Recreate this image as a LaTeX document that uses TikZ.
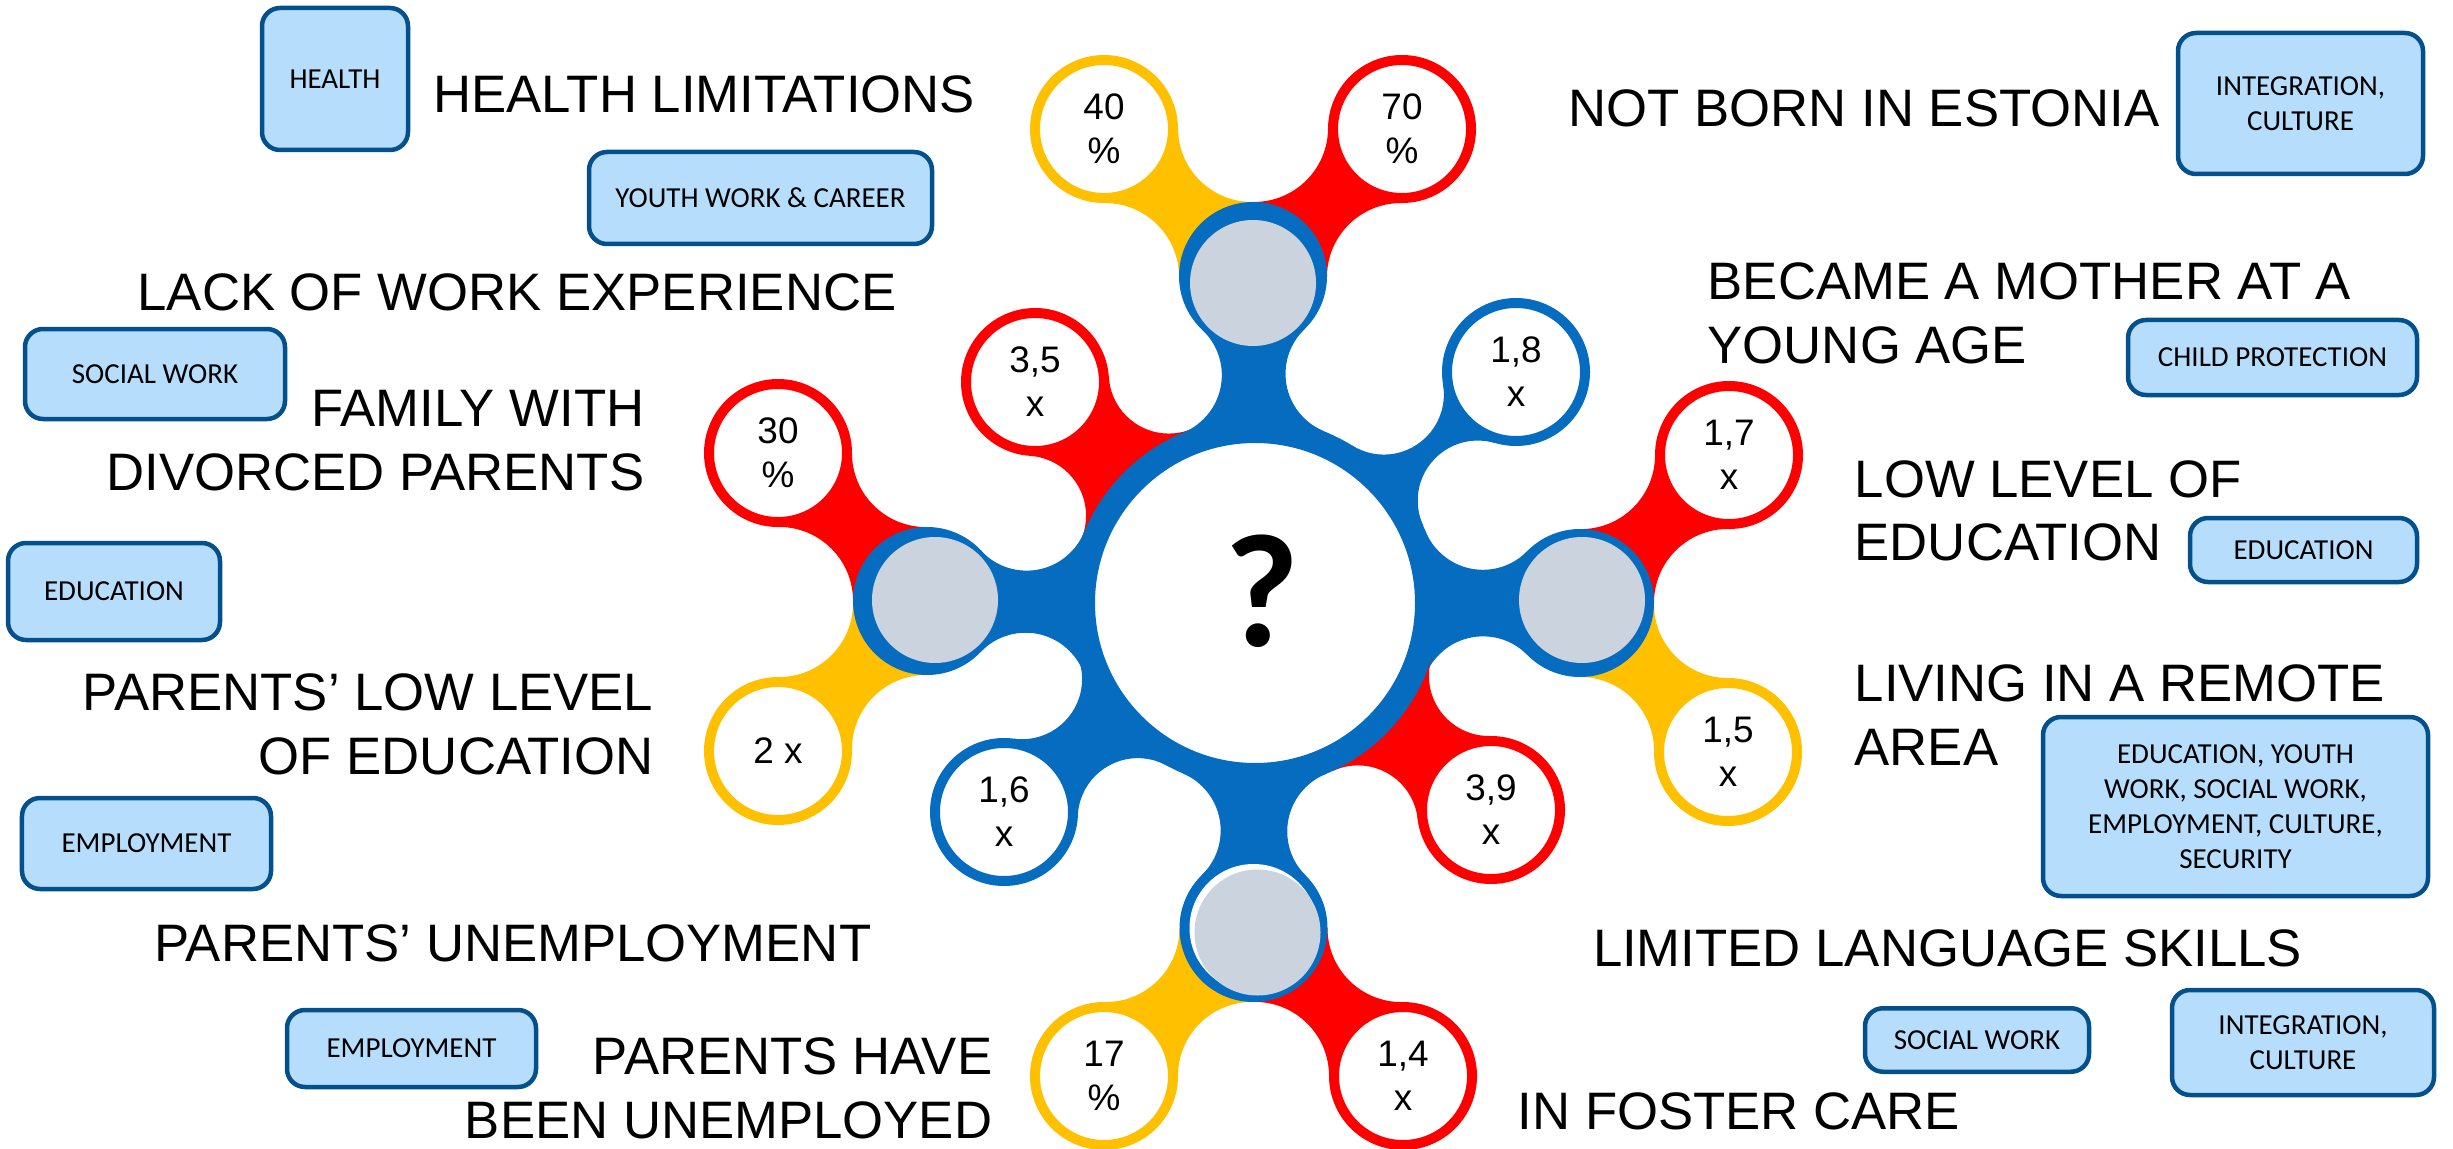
\documentclass[tikz,border=0pt]{standalone}
\usepackage{fontspec}
\setmainfont{Liberation Sans}
\newfontfamily\carlito{Carlito}
\usetikzlibrary{intersections}
\definecolor{mblue}{RGB}{5,108,192}
\definecolor{mred}{RGB}{255,0,0}
\definecolor{myellow}{RGB}{255,192,0}
\definecolor{hubgrey}{RGB}{203,211,222}
\definecolor{boxfill}{RGB}{182,222,252}
\definecolor{boxline}{RGB}{4,80,140}
\newcommand{\satr}{0.74}
\newcommand{\corer}{1.85}
\pgfdeclarelayer{back}
\pgfsetlayers{back,main}
% neck: colour, node a, radius a, node b, radius b, fillet radius
\newcommand{\neck}[6]{%
  \path[name path=ringa] (#2.center) circle[radius=#3+#6];
  \path[name path=ringb] (#4.center) circle[radius=#5+#6];
  \path[name intersections={of=ringa and ringb, by={fa,fb}}];
  \begin{scope}[even odd rule]
    \clip (#2.center) -- (fa) -- (#4.center) -- (fb) -- cycle;
    \clip (-1,-1) rectangle (26,13) (fa) circle[radius=#6] (fb) circle[radius=#6];
    \fill[fill=#1] (#2.center) -- (fa) -- (#4.center) -- (fb) -- cycle;
  \end{scope}}

\begin{document}
\begin{tikzpicture}[x=1cm, y=-1cm,
    sat/.style={circle, draw=#1, fill=white, line width=0.1cm, minimum size=1.38cm,
      inner sep=0pt, outer sep=0pt, align=center, font=\fontsize{10.5}{12.5}\selectfont},
    hub/.style={circle, fill=mblue, minimum size=1.48cm, inner sep=0pt, outer sep=0pt},
    task/.style={draw=boxline, fill=boxfill, line width=0.045cm, rounded corners=0.18cm,
      inner sep=0pt, align=center, font=\carlito\fontsize{8.25}{10}\selectfont},
    risk/.style={inner sep=0pt, font=\fontsize{15}{18.2}\selectfont}]
  \useasboundingbox (0,0) rectangle (24.53,11.49);
  %\draw[help lines] (0,0) grid (25,12);

  % centre
  \node[circle, draw=mblue, fill=white, line width=0.25cm, minimum size=3.45cm, inner sep=0pt] (core) at (12.55,6.03) {};
  \node[inner sep=0pt, font=\carlito\bfseries\fontsize{46}{46}\selectfont] (qmark) at (12.62,5.91) {?};

  % hubs
  \foreach \nm/\x/\y in {hubT/12.53/2.76, hubL/9.27/6.01, hubR/15.80/6.03, hubB/12.535/9.28}
    \node[hub] (\nm) at (\x,\y) {};
  \fill[hubgrey] ([shift={(0,0.07)}]hubT.center) circle (0.63);
  \fill[hubgrey] ([shift={(0.08,-0.01)}]hubL.center) circle (0.63);
  \fill[hubgrey] ([shift={(0.02,-0.03)}]hubR.center) circle (0.63);
  \fill[white] (hubB.center) circle (0.64);
  \fill[hubgrey] ([shift={(0.04,0.045)}]hubB.center) circle (0.63);

  % rates
  \foreach \nm/\col/\x/\y/\val in {
      s40/myellow/11.04/1.29/{40\\\%}, s70/mred/14.02/1.29/{70\\\%},
      s30/mred/7.78/4.53/{30\\\%}, s2x/myellow/7.78/7.51/{2 x},
      s1c7/mred/17.29/4.55/{1,7\\x}, s1c5/myellow/17.28/7.52/{1,5\\x},
      s17/myellow/11.04/10.76/{17\\\%}, s1c4/mred/14.03/10.76/{1,4\\x},
      s3c5/mred/10.35/3.82/{3,5\\x}, s1c8/mblue/15.16/3.72/{1,8\\x},
      s1c6/mblue/10.04/8.12/{1,6\\x}, s3c9/mred/14.91/8.10/{3,9\\x}}
    \node[sat=\col] (\nm) at (\x,\y) {\val};

  \begin{pgfonlayer}{back}
    \foreach \a/\b/\col in {s40/hubT/myellow, s70/hubT/mred, s30/hubL/mred, s2x/hubL/myellow,
        s1c7/hubR/mred, s1c5/hubR/myellow, s17/hubB/myellow, s1c4/hubB/mred}
      {\neck{\col}{\a}{\satr}{\b}{\satr}{0.74}}
    \foreach \a in {hubT, hubL, hubR, hubB}
      {\neck{mblue}{\a}{\satr}{core}{\corer}{0.62}}
    \foreach \a/\col in {s3c5/mred, s1c8/mblue, s1c6/mblue, s3c9/mred}
      {\neck{\col}{\a}{\satr}{core}{\corer}{0.6}}
  \end{pgfonlayer}

  % risk factors
  \node[risk, anchor=north] (health) at (7.04,0.75) {HEALTH LIMITATIONS};
  \node[risk, anchor=north] (workexp) at (5.17,2.73) {LACK OF WORK EXPERIENCE};
  \node[risk, anchor=north east, align=right] (divorce) at (6.45,3.90) {FAMILY WITH\\DIVORCED PARENTS};
  \node[risk, anchor=north east, align=right] (parentsedu) at (6.54,6.73) {PARENTS’ LOW LEVEL\\OF EDUCATION};
  \node[risk, anchor=north] (parentsjob) at (5.13,9.24) {PARENTS’ UNEMPLOYMENT};
  \node[risk, anchor=north east, align=right] (jobless) at (9.93,10.37) {PARENTS HAVE\\BEEN UNEMPLOYED};
  \node[risk, anchor=north] (estonia) at (18.64,0.89) {NOT BORN IN ESTONIA};
  \node[risk, anchor=north west, align=left] (mother) at (17.07,2.62) {BECAME A MOTHER AT A\\YOUNG AGE};
  \node[risk, anchor=north west, align=left] (lowedu) at (18.54,4.595) {LOW LEVEL OF\\EDUCATION};
  \node[risk, anchor=north west, align=left] (remote) at (18.54,6.64) {LIVING IN A REMOTE\\AREA};
  \node[risk, anchor=north] (language) at (19.475,9.29) {LIMITED LANGUAGE SKILLS};
  \node[risk, anchor=north] (foster) at (17.39,10.92) {IN FOSTER CARE};

  % services
  \node[task, minimum width=1.46cm, minimum height=1.42cm] (bhealth) at (3.35,0.79) {HEALTH};
  \node[task, minimum width=3.43cm, minimum height=0.92cm] (byouth) at (7.605,1.98) {YOUTH WORK \& CAREER};
  \node[task, minimum width=2.60cm, minimum height=0.90cm] (bsocialL) at (1.55,3.74) {SOCIAL WORK};
  \node[task, minimum width=2.12cm, minimum height=0.97cm] (beduL) at (1.14,5.915) {EDUCATION};
  \node[task, minimum width=2.49cm, minimum height=0.91cm] (bjobA) at (1.465,8.435) {EMPLOYMENT};
  \node[task, minimum width=2.49cm, minimum height=0.77cm] (bjobB) at (4.115,10.485) {EMPLOYMENT};
  \node[task, minimum width=2.45cm, minimum height=1.41cm] (bintA) at (23.005,1.035) {INTEGRATION,\\CULTURE};
  \node[task, minimum width=2.89cm, minimum height=0.75cm] (bchild) at (22.725,3.575) {CHILD PROTECTION};
  \node[task, minimum width=2.27cm, minimum height=0.64cm] (beduR) at (23.035,5.50) {EDUCATION};
  \node[task, minimum width=3.85cm, minimum height=1.79cm] (bremote) at (22.355,8.065) {EDUCATION, YOUTH\\WORK, SOCIAL WORK,\\EMPLOYMENT, CULTURE,\\SECURITY};
  \node[task, minimum width=2.24cm, minimum height=0.635cm] (bsocialR) at (19.77,10.40) {SOCIAL WORK};
  \node[task, minimum width=2.62cm, minimum height=1.05cm] (bintB) at (23.03,10.425) {INTEGRATION,\\CULTURE};
\end{tikzpicture}
\end{document}
